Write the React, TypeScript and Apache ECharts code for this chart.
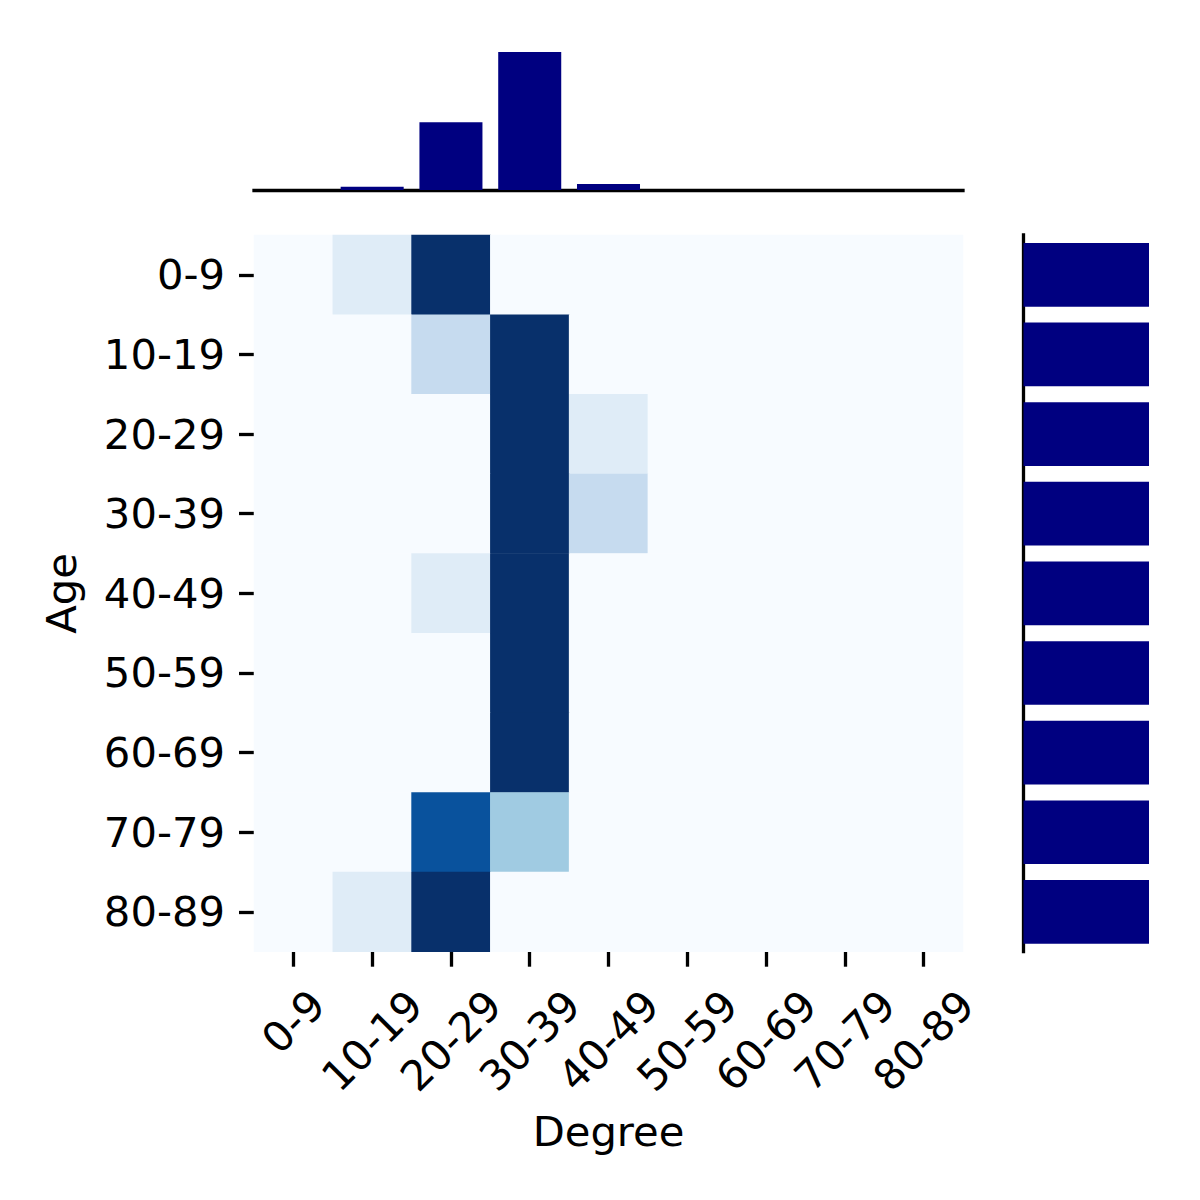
import React, { useEffect, useRef } from "react";
import * as echarts from "echarts";

const ageGroups = ["0-9", "10-19", "20-29", "30-39", "40-49", "50-59", "60-69", "70-79", "80-89"];
const degreeGroups = ["0-9", "10-19", "20-29", "30-39", "40-49", "50-59", "60-69", "70-79", "80-89"];

// heatmap rows (Age) x columns (Degree), colour scale 0..1
const row0_9 = [0, 0.12, 1, 0, 0, 0, 0, 0, 0];
const row10_19 = [0, 0, 0.25, 1, 0, 0, 0, 0, 0];
const row20_29 = [0, 0, 0, 1, 0.12, 0, 0, 0, 0];
const row30_39 = [0, 0, 0, 1, 0.25, 0, 0, 0, 0];
const row40_49 = [0, 0, 0.12, 1, 0, 0, 0, 0, 0];
const row50_59 = [0, 0, 0, 1, 0, 0, 0, 0, 0];
const row60_69 = [0, 0, 0, 1, 0, 0, 0, 0, 0];
const row70_79 = [0, 0, 0.87, 0.37, 0, 0, 0, 0, 0];
const row80_89 = [0, 0.12, 1, 0, 0, 0, 0, 0, 0];
const heatRows = [row0_9, row10_19, row20_29, row30_39, row40_49, row50_59, row60_69, row70_79, row80_89];

// marginal totals
const degreeTotals = [0, 0.13, 2.7, 5.5, 0.24, 0, 0, 0, 0];
const ageTotals = [1, 1, 1, 1, 1, 1, 1, 1, 1];

const blues = ["#f7fbff", "#deebf7", "#c6dbef", "#9ecae1", "#6baed6", "#4292c6", "#2171b5", "#08519c", "#08306b"];

const FONT = "DejaVu Sans";
const FS = 41.7;
const LW = 3.3;

export default function App() {
  const ref = useRef<HTMLDivElement>(null);
  useEffect(() => {
    if (!ref.current) return;
    const chart = echarts.init(ref.current, null, { renderer: "svg" });
    const heatData: number[][] = [];
    heatRows.forEach((row, yi) => row.forEach((v, xi) => heatData.push([xi, yi, v])));

    const gridL = 254;
    const gridT = 235;
    const gridW = 709;
    const gridH = 716.7;

    chart.setOption({
      animation: false,
      backgroundColor: "#ffffff",
      textStyle: { fontFamily: FONT },
      grid: [
        { left: gridL, top: gridT, width: gridW, height: gridH },
        { left: gridL, top: 52, width: gridW, height: 138 },
        { left: 1023.5, top: gridT, width: 125.5, height: gridH },
      ],
      xAxis: [
        {
          gridIndex: 0,
          type: "category",
          data: degreeGroups,
          name: "Degree",
          nameLocation: "middle",
          nameGap: 159,
          nameTextStyle: { fontSize: FS, color: "#000", fontFamily: FONT },
          axisLine: { show: false },
          axisTick: { show: true, alignWithLabel: true, length: 15, lineStyle: { color: "#000", width: LW } },
          axisLabel: {
            rotate: 45,
            interval: 0,
            margin: 89,
            align: "center",
            verticalAlign: "middle",
            fontSize: FS,
            color: "#000",
            fontFamily: FONT,
            formatter: (v: string) => (v.length < 5 ? `{s|${v}}` : `{n|${v}}`),
            rich: {
              s: { fontSize: FS, fontFamily: FONT, color: "#000", padding: [0, 0, 27, 27] },
              n: { fontSize: FS, fontFamily: FONT, color: "#000" },
            },
          },
          splitLine: { show: false },
        },
        {
          gridIndex: 1,
          type: "category",
          data: degreeGroups,
          axisLine: { show: true, lineStyle: { color: "#000", width: LW, cap: "square" } },
          axisTick: { show: false },
          axisLabel: { show: false },
          splitLine: { show: false },
        },
        {
          gridIndex: 2,
          type: "value",
          min: 0,
          max: Math.max(...ageTotals),
          show: false,
        },
      ],
      yAxis: [
        {
          gridIndex: 0,
          type: "category",
          data: ageGroups,
          inverse: true,
          name: "Age",
          nameLocation: "middle",
          nameGap: 172,
          nameTextStyle: { fontSize: FS, color: "#000", fontFamily: FONT },
          axisLine: { show: false },
          axisTick: { show: true, alignWithLabel: true, length: 15, lineStyle: { color: "#000", width: LW } },
          axisLabel: { interval: 0, margin: 29, fontSize: FS, color: "#000", fontFamily: FONT },
          splitLine: { show: false },
        },
        {
          gridIndex: 1,
          type: "value",
          min: 0,
          max: Math.max(...degreeTotals),
          show: false,
        },
        {
          gridIndex: 2,
          type: "category",
          data: ageGroups,
          inverse: true,
          axisLine: { show: true, lineStyle: { color: "#000", width: LW, cap: "square" } },
          axisTick: { show: false },
          axisLabel: { show: false },
          splitLine: { show: false },
        },
      ],
      visualMap: {
        show: false,
        type: "continuous",
        min: 0,
        max: 1,
        seriesIndex: 0,
        inRange: { color: blues },
      },
      series: [
        {
          type: "heatmap",
          xAxisIndex: 0,
          yAxisIndex: 0,
          data: heatData,
          itemStyle: { borderWidth: 0 },
          emphasis: { disabled: true },
        },
        {
          type: "bar",
          xAxisIndex: 1,
          yAxisIndex: 1,
          data: degreeTotals,
          barWidth: "80%",
          itemStyle: { color: "#000080" },
        },
        {
          type: "bar",
          xAxisIndex: 2,
          yAxisIndex: 2,
          data: ageTotals,
          barWidth: "80%",
          itemStyle: { color: "#000080" },
        },
      ],
    });
    return () => chart.dispose();
  }, []);
  return <div ref={ref} style={{ position: "absolute", left: 0, top: 0, width: 1200, height: 1200 }} />;
}
